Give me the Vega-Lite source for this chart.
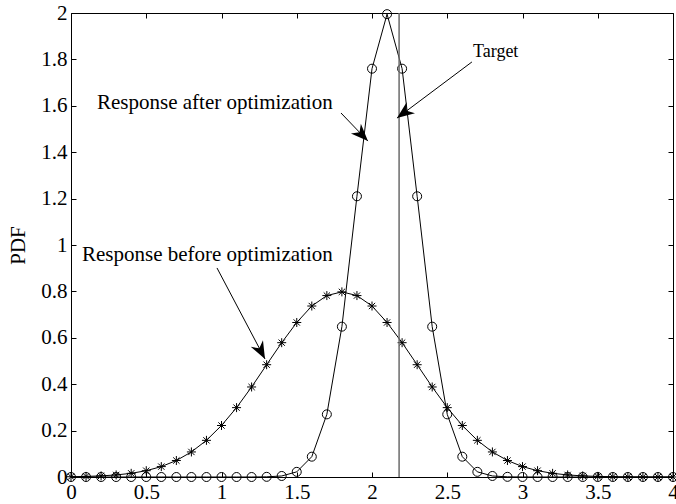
{
  "$schema": "https://vega.github.io/schema/vega-lite/v6.json",
  "width": 602,
  "height": 464,
  "autosize": {"type": "none"},
  "padding": {"left": 71, "top": 13, "right": 3, "bottom": 27},
  "background": "white",
  "config": {
    "view": {"stroke": "black", "strokeWidth": 1},
    "font": "Liberation Serif",
    "axis": {
      "grid": false,
      "domain": false,
      "tickColor": "black",
      "tickSize": -5,
      "tickWidth": 1,
      "labelFont": "Liberation Serif",
      "labelFontSize": 21,
      "labelColor": "black",
      "labelFlush": false,
      "labelOverlap": false,
      "titleFont": "Liberation Serif",
      "titleFontSize": 21,
      "titleFontWeight": "normal",
      "titleColor": "black"
    }
  },
  "datasets": {
    "curves": [
      {"x": 0.0, "pdf": 0.0, "series": "after"},
      {"x": 0.1, "pdf": 0.0, "series": "after"},
      {"x": 0.2, "pdf": 0.0, "series": "after"},
      {"x": 0.3, "pdf": 0.0, "series": "after"},
      {"x": 0.4, "pdf": 0.0, "series": "after"},
      {"x": 0.5, "pdf": 0.0, "series": "after"},
      {"x": 0.6, "pdf": 0.0, "series": "after"},
      {"x": 0.7, "pdf": 0.0, "series": "after"},
      {"x": 0.8, "pdf": 0.0, "series": "after"},
      {"x": 0.9, "pdf": 0.0, "series": "after"},
      {"x": 1.0, "pdf": 0.0, "series": "after"},
      {"x": 1.1, "pdf": 0.0, "series": "after"},
      {"x": 1.2, "pdf": 0.0, "series": "after"},
      {"x": 1.3, "pdf": 0.0007, "series": "after"},
      {"x": 1.4, "pdf": 0.0044, "series": "after"},
      {"x": 1.5, "pdf": 0.0222, "series": "after"},
      {"x": 1.6, "pdf": 0.0876, "series": "after"},
      {"x": 1.7, "pdf": 0.270, "series": "after"},
      {"x": 1.8, "pdf": 0.648, "series": "after"},
      {"x": 1.9, "pdf": 1.210, "series": "after"},
      {"x": 2.0, "pdf": 1.760, "series": "after"},
      {"x": 2.1, "pdf": 1.995, "series": "after"},
      {"x": 2.2, "pdf": 1.760, "series": "after"},
      {"x": 2.3, "pdf": 1.210, "series": "after"},
      {"x": 2.4, "pdf": 0.648, "series": "after"},
      {"x": 2.5, "pdf": 0.270, "series": "after"},
      {"x": 2.6, "pdf": 0.0876, "series": "after"},
      {"x": 2.7, "pdf": 0.0222, "series": "after"},
      {"x": 2.8, "pdf": 0.0044, "series": "after"},
      {"x": 2.9, "pdf": 0.0007, "series": "after"},
      {"x": 3.0, "pdf": 0.0001, "series": "after"},
      {"x": 3.1, "pdf": 0.0, "series": "after"},
      {"x": 3.2, "pdf": 0.0, "series": "after"},
      {"x": 3.3, "pdf": 0.0, "series": "after"},
      {"x": 3.4, "pdf": 0.0, "series": "after"},
      {"x": 3.5, "pdf": 0.0, "series": "after"},
      {"x": 3.6, "pdf": 0.0, "series": "after"},
      {"x": 3.7, "pdf": 0.0, "series": "after"},
      {"x": 3.8, "pdf": 0.0, "series": "after"},
      {"x": 3.9, "pdf": 0.0, "series": "after"},
      {"x": 4.0, "pdf": 0.0, "series": "after"},
      {"x": 0.0, "pdf": 0.0012, "series": "before"},
      {"x": 0.1, "pdf": 0.0025, "series": "before"},
      {"x": 0.2, "pdf": 0.0048, "series": "before"},
      {"x": 0.3, "pdf": 0.0089, "series": "before"},
      {"x": 0.4, "pdf": 0.0158, "series": "before"},
      {"x": 0.5, "pdf": 0.0272, "series": "before"},
      {"x": 0.6, "pdf": 0.0448, "series": "before"},
      {"x": 0.7, "pdf": 0.0710, "series": "before"},
      {"x": 0.8, "pdf": 0.108, "series": "before"},
      {"x": 0.9, "pdf": 0.158, "series": "before"},
      {"x": 1.0, "pdf": 0.222, "series": "before"},
      {"x": 1.1, "pdf": 0.299, "series": "before"},
      {"x": 1.2, "pdf": 0.388, "series": "before"},
      {"x": 1.3, "pdf": 0.484, "series": "before"},
      {"x": 1.4, "pdf": 0.579, "series": "before"},
      {"x": 1.5, "pdf": 0.666, "series": "before"},
      {"x": 1.6, "pdf": 0.737, "series": "before"},
      {"x": 1.7, "pdf": 0.782, "series": "before"},
      {"x": 1.8, "pdf": 0.798, "series": "before"},
      {"x": 1.9, "pdf": 0.782, "series": "before"},
      {"x": 2.0, "pdf": 0.737, "series": "before"},
      {"x": 2.1, "pdf": 0.666, "series": "before"},
      {"x": 2.2, "pdf": 0.579, "series": "before"},
      {"x": 2.3, "pdf": 0.484, "series": "before"},
      {"x": 2.4, "pdf": 0.388, "series": "before"},
      {"x": 2.5, "pdf": 0.299, "series": "before"},
      {"x": 2.6, "pdf": 0.222, "series": "before"},
      {"x": 2.7, "pdf": 0.158, "series": "before"},
      {"x": 2.8, "pdf": 0.108, "series": "before"},
      {"x": 2.9, "pdf": 0.0710, "series": "before"},
      {"x": 3.0, "pdf": 0.0448, "series": "before"},
      {"x": 3.1, "pdf": 0.0272, "series": "before"},
      {"x": 3.2, "pdf": 0.0158, "series": "before"},
      {"x": 3.3, "pdf": 0.0089, "series": "before"},
      {"x": 3.4, "pdf": 0.0048, "series": "before"},
      {"x": 3.5, "pdf": 0.0025, "series": "before"},
      {"x": 3.6, "pdf": 0.0012, "series": "before"},
      {"x": 3.7, "pdf": 0.0006, "series": "before"},
      {"x": 3.8, "pdf": 0.0003, "series": "before"},
      {"x": 3.9, "pdf": 0.0001, "series": "before"},
      {"x": 4.0, "pdf": 0.0001, "series": "before"}
    ],
    "notes": [
      {"id": "after", "label": "Response after optimization", "tx": 0.173, "ty": 1.586, "x1": 1.794, "y1": 1.569, "x2": 1.973, "y2": 1.448},
      {"id": "before", "label": "Response before optimization", "tx": 0.073, "ty": 0.931, "x1": 0.970, "y1": 0.901, "x2": 1.289, "y2": 0.509},
      {"id": "target", "label": "Target", "tx": 2.671, "ty": 1.810, "x1": 2.664, "y1": 1.789, "x2": 2.166, "y2": 1.547}
    ],
    "target": [{"x": 2.18}]
  },
  "layer": [
    {
      "data": {"name": "curves"},
      "mark": {"type": "line", "color": "black", "strokeWidth": 1},
      "encoding": {
        "x": {"field": "x", "type": "quantitative", "scale": {"domain": [0, 4], "nice": false, "zero": false},
          "axis": {"orient": "bottom", "values": [0, 0.5, 1, 1.5, 2, 2.5, 3, 3.5, 4], "format": "~g", "title": null, "labelPadding": 9, "labelBaseline": "top"}},
        "y": {"field": "pdf", "type": "quantitative", "scale": {"domain": [0, 2], "nice": false},
          "axis": {"orient": "left", "values": [0, 0.2, 0.4, 0.6, 0.8, 1, 1.2, 1.4, 1.6, 1.8, 2], "format": "~g", "title": "PDF", "labelPadding": 9, "titlePadding": 12}},
        "detail": {"field": "series"}
      }
    },
    {
      "data": {"name": "curves"},
      "mark": {"type": "point", "filled": false, "color": "black", "strokeWidth": 1, "size": 81, "opacity": 1},
      "encoding": {
        "x": {"field": "x", "type": "quantitative", "axis": null},
        "y": {"field": "pdf", "type": "quantitative", "axis": null},
        "shape": {"field": "series", "type": "nominal", "legend": null,
          "scale": {"domain": ["after", "before"], "range": ["circle", "M-1,0L1,0M0,-1L0,1M-0.7,-0.7L0.7,0.7M-0.7,0.7L0.7,-0.7"]}}
      }
    },
    {
      "data": {"name": "target"},
      "mark": {"type": "rule", "color": "#6b6b6b", "strokeWidth": 1.5},
      "encoding": {
        "x": {"field": "x", "type": "quantitative", "axis": null}
      }
    },
    {
      "data": {"name": "notes"},
      "mark": {"type": "rule", "color": "black", "strokeWidth": 1},
      "encoding": {
        "x": {"field": "x1", "type": "quantitative", "axis": null},
        "y": {"field": "y1", "type": "quantitative", "axis": null},
        "x2": {"field": "x2"},
        "y2": {"field": "y2"}
      }
    },
    {
      "data": {"name": "notes"},
      "transform": [{"filter": "datum.id === 'after'"}],
      "mark": {"type": "point", "shape": "M0,0L0.8,2L0,1.4L-0.8,2Z", "filled": true, "color": "black", "opacity": 1, "size": 300, "angle": 136},
      "encoding": {
        "x": {"field": "x2", "type": "quantitative", "axis": null},
        "y": {"field": "y2", "type": "quantitative", "axis": null}
      }
    },
    {
      "data": {"name": "notes"},
      "transform": [{"filter": "datum.id === 'before'"}],
      "mark": {"type": "point", "shape": "M0,0L0.8,2L0,1.4L-0.8,2Z", "filled": true, "color": "black", "opacity": 1, "size": 300, "angle": 152},
      "encoding": {
        "x": {"field": "x2", "type": "quantitative", "axis": null},
        "y": {"field": "y2", "type": "quantitative", "axis": null}
      }
    },
    {
      "data": {"name": "notes"},
      "transform": [{"filter": "datum.id === 'target'"}],
      "mark": {"type": "point", "shape": "M0,0L0.8,2L0,1.4L-0.8,2Z", "filled": true, "color": "black", "opacity": 1, "size": 300, "angle": 233},
      "encoding": {
        "x": {"field": "x2", "type": "quantitative", "axis": null},
        "y": {"field": "y2", "type": "quantitative", "axis": null}
      }
    },
    {
      "data": {"name": "notes"},
      "transform": [{"filter": "datum.id !== 'target'"}],
      "mark": {"type": "text", "align": "left", "baseline": "alphabetic", "font": "Liberation Serif", "fontSize": 21, "color": "black"},
      "encoding": {
        "x": {"field": "tx", "type": "quantitative", "axis": null},
        "y": {"field": "ty", "type": "quantitative", "axis": null},
        "text": {"field": "label"}
      }
    },
    {
      "data": {"name": "notes"},
      "transform": [{"filter": "datum.id === 'target'"}],
      "mark": {"type": "text", "align": "left", "baseline": "alphabetic", "font": "Liberation Serif", "fontSize": 18, "color": "black"},
      "encoding": {
        "x": {"field": "tx", "type": "quantitative", "axis": null},
        "y": {"field": "ty", "type": "quantitative", "axis": null},
        "text": {"field": "label"}
      }
    },
    {
      "data": {"name": "curves"},
      "mark": {"type": "point", "opacity": 0},
      "encoding": {
        "x": {"field": "x", "type": "quantitative",
          "axis": {"orient": "top", "values": [0, 0.5, 1, 1.5, 2, 2.5, 3, 3.5, 4], "labels": false, "title": null}},
        "y": {"field": "pdf", "type": "quantitative",
          "axis": {"orient": "right", "values": [0, 0.2, 0.4, 0.6, 0.8, 1, 1.2, 1.4, 1.6, 1.8, 2], "labels": false, "title": null}}
      }
    }
  ],
  "resolve": {"axis": {"x": "independent", "y": "independent"}}
}
